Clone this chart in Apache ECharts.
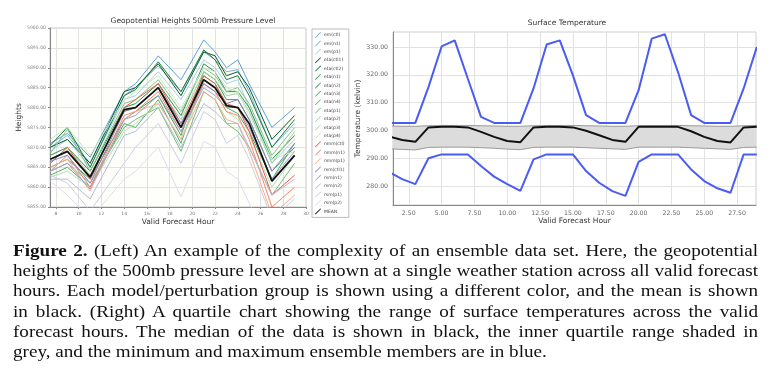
<!DOCTYPE html>
<html lang="en">
<head>
<meta charset="utf-8">
<title>Ensemble charts</title>
<script src="https://cdn.jsdelivr.net/npm/echarts@6/dist/echarts.min.js"></script>
<style>
  html, body { margin: 0; padding: 0; background: #fff; }
  #main { position: absolute; left: 0; top: 0; width: 772px; height: 375px; }
  #caption { position: absolute; left: 12.5px; top: 241px; width: 745px; font-size: 16px;
             font-family: "Liberation Serif", serif; color: #111; line-height: 20.2px;
             transform-origin: 0 0; }
  #caption .ln { white-space: nowrap; text-align: justify; text-align-last: justify; }
  #caption .ln.last, #caption.measure .ln { text-align-last: left; }
  #caption span { white-space: nowrap; }
</style>
</head>
<body>
<div id="main"></div>
<div id="caption" class="measure">
  <div class="ln"><span><b>Figure 2.</b> (Left) An example of the complexity of an ensemble data set. Here, the geopotential</span></div>
  <div class="ln"><span>heights of the 500mb pressure level are shown at a single weather station across all valid forecast</span></div>
  <div class="ln"><span>hours. Each model/perturbation group is shown using a different color, and the mean is shown</span></div>
  <div class="ln"><span>in black. (Right) A quartile chart showing the range of surface temperatures across the valid</span></div>
  <div class="ln"><span>forecast hours. The median of the data is shown in black, the inner quartile range shaded in</span></div>
  <div class="ln last"><span>grey, and the minimum and maximum ensemble members are in blue.</span></div>
</div>
<script>
// ---- left chart: geopotential heights (500mb) ----
var geoHours = [7.5, 9, 11, 14, 15, 17, 19, 21, 22, 23, 24, 25, 27, 29];
var geoXTicks = [8, 10, 12, 14, 16, 18, 20, 22, 24, 26, 28, 30];

var emCtl   = [5871, 5873.5, 5867.5, 5884, 5886, 5893, 5887, 5897, 5894, 5890, 5892, 5886, 5875, 5880];
var emN1    = [5870, 5873, 5866, 5883, 5885, 5890.5, 5884, 5894, 5892, 5889, 5889.5, 5884, 5870, 5876];
var emP1    = [5869, 5872, 5865, 5882, 5883, 5889, 5882, 5892, 5890, 5886, 5887, 5880, 5866, 5872];
var etaCtl1 = [5870, 5872, 5866, 5884, 5885, 5891, 5883, 5894, 5893, 5888, 5889, 5885, 5872, 5878];
var etaCtl2 = [5870.5, 5875, 5865, 5883, 5884.5, 5891.5, 5884, 5894.5, 5892, 5887, 5888, 5883, 5870, 5877];
var etaN1   = [5868, 5870, 5864, 5880, 5881, 5886, 5878, 5891, 5889, 5884, 5884, 5880, 5867, 5873];
var etaN2   = [5865, 5867, 5862, 5877, 5879, 5883, 5873, 5889, 5887, 5882, 5882, 5877, 5864, 5870];
var etaN3   = [5863, 5865, 5860, 5876, 5875, 5882, 5871, 5888, 5886, 5880, 5878.5, 5874, 5862, 5871];
var etaN4   = [5864, 5866, 5861, 5875, 5877, 5880, 5869, 5884, 5882, 5876, 5874, 5870, 5858, 5866];
var etaP1   = [5868.5, 5874.5, 5864, 5881, 5882, 5887, 5879, 5890, 5888, 5884, 5885, 5881, 5868, 5875];
var etaP2   = [5866, 5870, 5863, 5879, 5880, 5885, 5877, 5889, 5887, 5883, 5883.5, 5879, 5866, 5874];
var etaP3   = [5862.5, 5864, 5860, 5874, 5876, 5881, 5872, 5886, 5884, 5879, 5877, 5873, 5860, 5868];
var etaP4   = [5872, 5875, 5868, 5882, 5884, 5888, 5880, 5890, 5889, 5885, 5884, 5878, 5867, 5869];
var nmmCtl  = [5866, 5870, 5862, 5880, 5882, 5886, 5876, 5888, 5886, 5881, 5880, 5874, 5858, 5863];
var nmmN1   = [5864, 5868, 5860, 5878, 5879, 5884, 5874, 5886, 5884, 5879, 5878, 5872, 5855, 5860];
var nmmP1   = [5865, 5867, 5859, 5877, 5879, 5881, 5872, 5884, 5882, 5877, 5876, 5869, 5853, 5858];
var rsmCtl1 = [5866.5, 5868, 5861, 5879, 5880, 5885, 5876, 5886, 5884, 5881, 5882, 5877, 5864, 5871];
var rsmN1   = [5864, 5866, 5859.5, 5877, 5878, 5883, 5874, 5885, 5883, 5880, 5880, 5875, 5862, 5869];
var rsmN2   = [5862, 5862, 5857, 5873, 5874, 5880, 5870, 5881, 5879, 5876, 5876, 5870, 5858, 5862];
var rsmP1   = [5863, 5861, 5854, 5866, 5870, 5876, 5866, 5879, 5877, 5871, 5873, 5867, 5852, 5857];
var rsmP2   = [5861.5, 5858, 5852, 5862, 5864, 5870, 5857.5, 5871.5, 5870, 5864, 5862, 5856, 5845, 5850];
var geoMean = [5867, 5869, 5862.5, 5879.5, 5880, 5885, 5875, 5887, 5885, 5880.5, 5880, 5876, 5861.5, 5868];

var members = [
  ['em(ctl)', emCtl], ['em(n1)', emN1], ['em(p1)', emP1],
  ['eta(ctl1)', etaCtl1], ['eta(ctl2)', etaCtl2], ['eta(n1)', etaN1], ['eta(n2)', etaN2],
  ['eta(n3)', etaN3], ['eta(n4)', etaN4], ['eta(p1)', etaP1], ['eta(p2)', etaP2],
  ['eta(p3)', etaP3], ['eta(p4)', etaP4],
  ['nmm(ctl)', nmmCtl], ['nmm(n1)', nmmN1], ['nmm(p1)', nmmP1],
  ['rsm(ctl1)', rsmCtl1], ['rsm(n1)', rsmN1], ['rsm(n2)', rsmN2], ['rsm(p1)', rsmP1], ['rsm(p2)', rsmP2]
];
var memberColors = [
  '#5aa3d6', '#74b3de', '#a9cfe8',
  '#0b5a2a', '#1d7a3c', '#2f8f4c', '#3f9f58', '#55ad68', '#6fbd7a', '#82c58a', '#99d29e', '#b3deb2', '#cbe9c6',
  '#e8604a', '#f4866a', '#f8ae90',
  '#8a86c2', '#a29fcf', '#bab8dc', '#cfcde6', '#dedcee'
];

// ---- right chart: surface temperature quartiles ----
var tempHours = [1, 2, 3, 4, 5, 6, 7, 8, 9, 10, 11, 12, 13, 14, 15, 16, 17, 18, 19, 20, 21, 22, 23, 24, 25, 26, 27, 28, 29];
var tempMax = [302.7, 302.7, 302.7, 315.6, 330.2, 332.4, 318.6, 304.9, 302.7, 302.7, 302.7, 315.1, 330.9, 332.4, 319.8,
               305.5, 302.7, 302.7, 302.7, 314.5, 333, 334.6, 321, 305.5, 302.7, 302.7, 302.7, 315.1, 330];
var tempMin = [285, 282.5, 280.7, 290, 291.4, 291.4, 291.4, 287.2, 283.4, 280.7, 278.3, 289.6, 291.4, 291.4, 291.4,
               285.4, 281.2, 278.2, 276.5, 288.7, 291.4, 291.4, 291.4, 286, 281.8, 279.2, 277.6, 291.4, 291.4];
var tempMedian = [297.8, 296.6, 295.9, 301.1, 301.3, 301.3, 301.1, 299.5, 297.7, 296.2, 295.8, 301.1, 301.3, 301.3, 301.1,
                  299.9, 298.3, 296.6, 295.9, 301.3, 301.3, 301.3, 301.3, 299.7, 297.7, 296.2, 295.7, 301.1, 301.3];
var tempUpperQ = [301.6, 301.5, 301.5, 301.7, 301.8, 301.8, 301.8, 301.7, 301.6, 301.5, 301.5, 301.7, 301.8, 301.8, 301.8,
                  301.7, 301.6, 301.5, 301.5, 301.7, 301.8, 301.8, 301.8, 301.7, 301.6, 301.5, 301.5, 301.7, 301.8];
var tempLowerQ = [293.4, 293.2, 293.0, 293.9, 294.0, 294.0, 294.0, 293.8, 293.6, 293.3, 293.1, 293.9, 294.0, 294.0, 294.0,
                  293.8, 293.6, 293.4, 293.2, 294.0, 294.0, 294.0, 294.0, 293.8, 293.6, 293.4, 293.2, 293.9, 294.0];
var tempXTicks = [2.5, 5, 7.5, 10, 12.5, 15, 17.5, 20, 22.5, 25, 27.5];
var tempYTicks = [280, 290, 300, 310, 320, 330];

function pairs(xs, ys) { return xs.map(function (x, i) { return [x, ys[i]]; }); }

var myChart = echarts.init(document.getElementById('main'));
var font = 'DejaVu Sans';
var series = [];
var legendNames = [];

members.forEach(function (m, i) {
  legendNames.push(m[0]);
  series.push({
    name: m[0], type: 'line', xAxisIndex: 0, yAxisIndex: 0,
    data: pairs(geoHours, m[1]), symbol: 'none', color: memberColors[i],
    lineStyle: { width: 1 }, z: 2
  });
});
legendNames.push('MEAN');
series.push({
  name: 'MEAN', type: 'line', xAxisIndex: 0, yAxisIndex: 0,
  data: pairs(geoHours, geoMean), symbol: 'none', color: '#111',
  lineStyle: { width: 1.8 }, z: 3
});

// quartile band: one polygon between upper and lower quartile, placed with the axis scales
var bandData = tempHours.map(function (h, i) { return [h, tempLowerQ[i], tempUpperQ[i]]; });
series.push({
  name: 'iqr', type: 'custom', xAxisIndex: 1, yAxisIndex: 1, z: 1,
  data: bandData,
  renderItem: function (params, api) {
    if (params.dataIndex !== 0) return null;
    var top = bandData.map(function (d) { return api.coord([d[0], d[2]]); });
    var bot = bandData.map(function (d) { return api.coord([d[0], d[1]]); }).reverse();
    var cs = params.coordSys;
    return {
      type: 'polygon',
      shape: { points: top.concat(bot) },
      style: { fill: '#dcdcdc', stroke: null },
      clipPath: { type: 'rect', shape: { x: cs.x, y: cs.y, width: cs.width, height: cs.height } }
    };
  }
});
series.push({
  name: 'q1', type: 'line', xAxisIndex: 1, yAxisIndex: 1, z: 2,
  data: pairs(tempHours, tempLowerQ), symbol: 'none', color: '#9a9a9a', lineStyle: { width: 1 }
});
series.push({
  name: 'q3', type: 'line', xAxisIndex: 1, yAxisIndex: 1, z: 2,
  data: pairs(tempHours, tempUpperQ), symbol: 'none', color: '#9a9a9a', lineStyle: { width: 1 }
});
series.push({
  name: 'median', type: 'line', xAxisIndex: 1, yAxisIndex: 1,
  data: pairs(tempHours, tempMedian), symbol: 'none', color: '#111', lineStyle: { width: 2 }, z: 3
});
series.push({
  name: 'max', type: 'line', xAxisIndex: 1, yAxisIndex: 1,
  data: pairs(tempHours, tempMax), symbol: 'none', color: '#4a5cf4', lineStyle: { width: 2 }, z: 3
});
series.push({
  name: 'min', type: 'line', xAxisIndex: 1, yAxisIndex: 1,
  data: pairs(tempHours, tempMin), symbol: 'none', color: '#4a5cf4', lineStyle: { width: 2 }, z: 3
});

var gridLine = { show: true, lineStyle: { color: '#e2e2e2', width: 1 } };

var option = {
  animation: false,
  textStyle: { fontFamily: font },
  title: [
    { text: 'Geopotential Heights 500mb Pressure Level', left: 193, top: 17, textAlign: 'center', padding: 0,
      textStyle: { fontSize: 7.5, fontWeight: 'normal', color: '#333', fontFamily: font } },
    { text: 'Surface Temperature', left: 567, top: 19, textAlign: 'center', padding: 0,
      textStyle: { fontSize: 7.5, fontWeight: 'normal', color: '#333', fontFamily: font } }
  ],
  legend: {
    data: legendNames, orient: 'vertical', left: 312, top: 29,
    itemWidth: 6, itemHeight: 6, itemGap: 2.4, padding: [3, 4, 3, 3],
    icon: 'path://M0,10 L9,1 L10,2 L1,11 Z',
    borderColor: '#bbb', borderWidth: 1, backgroundColor: '#fff',
    textStyle: { fontSize: 4.5, color: '#444', fontFamily: font, padding: [0, 0, 0, -2] }
  },
  grid: [
    { left: 50, top: 28, width: 256, height: 179, show: true, backgroundColor: '#fefefb', borderColor: '#c8c8c8' },
    { left: 393, top: 32, width: 363, height: 173, show: true, backgroundColor: '#fff', borderColor: '#cfcfcf' }
  ],
  xAxis: [
    { type: 'value', gridIndex: 0, min: 7.47, max: 30,
      name: 'Valid Forecast Hour', nameLocation: 'middle', nameGap: 11,
      nameTextStyle: { fontSize: 7.5, color: '#333' },
      axisLine: { show: true, lineStyle: { color: '#888' } },
      axisTick: { show: true, length: 2, customValues: geoXTicks, lineStyle: { color: '#888' } },
      axisLabel: { customValues: geoXTicks, fontSize: 4.5, color: '#777', margin: 4 },
      splitLine: gridLine },
    { type: 'value', gridIndex: 1, min: 1.3, max: 28.94,
      name: 'Valid Forecast Hour', nameLocation: 'middle', nameGap: 11,
      nameTextStyle: { fontSize: 7.5, color: '#333' },
      axisLine: { show: true, lineStyle: { color: '#888' } },
      axisTick: { show: false, customValues: tempXTicks },
      axisLabel: { customValues: tempXTicks, fontSize: 6.2, color: '#666', margin: 5,
        formatter: function (v) { return v.toFixed(2); } },
      splitLine: gridLine }
  ],
  yAxis: [
    { type: 'value', gridIndex: 0, min: 5855, max: 5900, interval: 5,
      name: 'Heights', nameLocation: 'middle', nameGap: 27, nameRotate: 90,
      nameTextStyle: { fontSize: 7.5, color: '#333' },
      axisLine: { show: true, lineStyle: { color: '#888' } },
      axisTick: { show: true, length: 2, lineStyle: { color: '#888' } },
      axisLabel: { fontSize: 4.6, color: '#888', margin: 4,
        formatter: function (v) { return v.toFixed(2); } },
      splitLine: gridLine },
    { type: 'value', gridIndex: 1, min: 273.2, max: 335.4,
      name: 'Temperature (kelvin)', nameLocation: 'middle', nameGap: 30, nameRotate: 90,
      nameTextStyle: { fontSize: 7.5, color: '#333' },
      axisLine: { show: true, lineStyle: { color: '#888' } },
      axisTick: { show: false, customValues: tempYTicks },
      axisLabel: { customValues: tempYTicks, fontSize: 6.2, color: '#666', margin: 5,
        formatter: function (v) { return v.toFixed(2); } },
      splitLine: gridLine }
  ],
  series: series
};
myChart.setOption(option);

// caption: 16px type stretched horizontally (wide glyphs like the original serif),
// so the last unjustified line matches the reference width
(function () {
  var cap = document.getElementById('caption');
  var spans = cap.querySelectorAll('span');
  var w = spans[spans.length - 1].getBoundingClientRect().width;
  var s = 547 / w;
  for (var i = 0; i < spans.length - 1; i++) {
    var wi = spans[i].getBoundingClientRect().width;
    if (wi * s > 743) s = 743 / wi;
  }
  cap.style.width = (745 / s).toFixed(2) + 'px';
  cap.style.transform = 'scaleX(' + s.toFixed(4) + ')';
  cap.classList.remove('measure');
})();
</script>
</body>
</html>
